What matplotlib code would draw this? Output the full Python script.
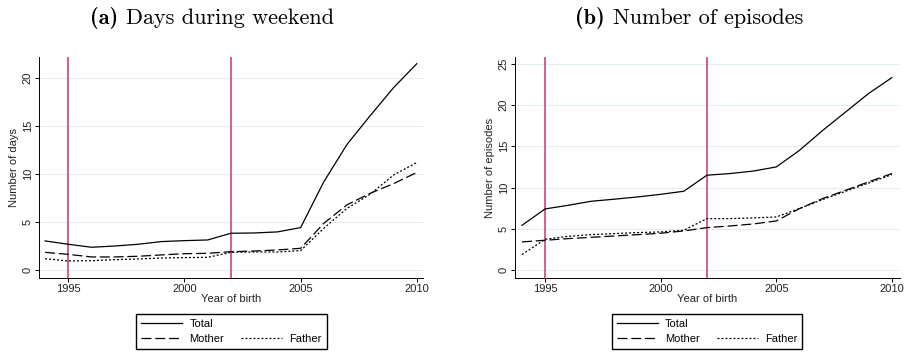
import matplotlib
matplotlib.use("Agg")
import matplotlib.pyplot as plt
from matplotlib.lines import Line2D

plt.rcParams['font.family'] = ['Liberation Sans', 'DejaVu Sans']

years = list(range(1994, 2011))

# (a) days during weekend
days_total = [3.03, 2.68, 2.37, 2.5, 2.68, 2.96, 3.06, 3.13, 3.83, 3.86, 3.97, 4.42,
              9.2, 13.1, 16.1, 19.0, 21.5]
days_mother = [1.84, 1.63, 1.36, 1.36, 1.43, 1.57, 1.7, 1.74, 1.91, 1.98, 2.09, 2.26,
               4.87, 6.8, 8.0, 9.0, 10.16]
days_father = [1.18, 0.94, 0.97, 1.08, 1.15, 1.25, 1.29, 1.32, 1.84, 1.88, 1.88, 2.02,
               4.35, 6.43, 7.9, 9.9, 11.2]

# (b) number of episodes
ep_total = [5.44, 7.42, 7.86, 8.35, 8.6, 8.87, 9.19, 9.56, 11.5, 11.7, 12.0, 12.5,
            14.5, 16.9, 19.15, 21.4, 23.3]
ep_mother = [3.43, 3.63, 3.83, 3.99, 4.15, 4.31, 4.48, 4.76, 5.16, 5.36, 5.6, 5.97,
             7.46, 8.67, 9.68, 10.7, 11.7]
ep_father = [1.9, 3.75, 4.11, 4.31, 4.44, 4.56, 4.64, 4.84, 6.25, 6.25, 6.33, 6.45,
             7.46, 8.55, 9.56, 10.56, 11.57]

reform_years = [1995, 2002]

W, H = 910, 355

panels = [
    dict(tag="(a)", title="Days during weekend", ylabel="Number of days",
         series=(days_total, days_mother, days_father), yticks=[0, 5, 10, 15, 20],
         ylim=(-0.83, 22.2), xlim=(1993.74, 2010.27), rect=[0.0429, 0.217, 0.422, 0.6225],
         tag_x=118, title_x=125.5, leg_x=231.5),
    dict(tag="(b)", title="Number of episodes", ylabel="Number of episodes",
         series=(ep_total, ep_mother, ep_father), yticks=[0, 5, 10, 15, 20, 25],
         ylim=(-0.93, 25.8), xlim=(1993.70, 2010.35), rect=[0.566, 0.217, 0.423, 0.6225],
         tag_x=605, title_x=613, leg_x=707),
]

styles = [dict(ls='-'), dict(ls=(0, (8, 3))), dict(ls=(0, (1.6, 1.6)))]
labels = ["Total", "Mother", "Father"]
txt = '#222222'

fig = plt.figure(figsize=(W / 100, H / 100), dpi=100)

for p in panels:
    ax = fig.add_axes(p['rect'])
    for y in p['yticks']:
        ax.axhline(y, color='#e3edf0', lw=0.8, zorder=0)
    for yr in reform_years:
        ax.axvline(yr, color='#d45476', lw=1.3, zorder=1)
    handles = []
    for vals, st, lab in zip(p['series'], styles, labels):
        h, = ax.plot(years, vals, color='black', lw=0.9, label=lab, zorder=2, **st)
        handles.append(h)
    ax.set_xlim(*p['xlim'])
    ax.set_ylim(*p['ylim'])
    ax.set_xticks([1995, 2000, 2005, 2010])
    ax.set_yticks(p['yticks'])
    ax.tick_params(labelsize=8, length=3, width=0.7, pad=1.5, labelcolor=txt)
    for t in ax.get_yticklabels():
        t.set_rotation(90)
        t.set_va('center')
    for s in ['top', 'right']:
        ax.spines[s].set_visible(False)
    for s in ['left', 'bottom']:
        ax.spines[s].set_linewidth(0.7)
    ax.set_xlabel("Year of birth", fontsize=8, labelpad=0, color=txt)
    ax.set_ylabel(p['ylabel'], fontsize=8, labelpad=3, color=txt)

    # panel heading: bold tag + roman title
    fig.text(p['tag_x'] / W, 1 - 24 / H, p['tag'], ha='right', va='baseline',
             fontsize=16, family='cmb10')
    fig.text(p['title_x'] / W, 1 - 24 / H, p['title'], ha='left', va='baseline',
             fontsize=16, family='cmr10')

    blank = Line2D([], [], visible=False)
    fig.legend([handles[0], handles[1], blank, handles[2]],
               ["Total", "Mother", "", "Father"], ncol=2,
               loc='center', bbox_to_anchor=(p['leg_x'] / W, (H - 331.5) / H),
               fontsize=8, frameon=True, fancybox=False, edgecolor='black',
               framealpha=1, handlelength=3.7, handletextpad=0.65,
               columnspacing=1.5, labelspacing=0.45, borderpad=0.45,
               borderaxespad=0)

fig.savefig("out.png", dpi=100)
